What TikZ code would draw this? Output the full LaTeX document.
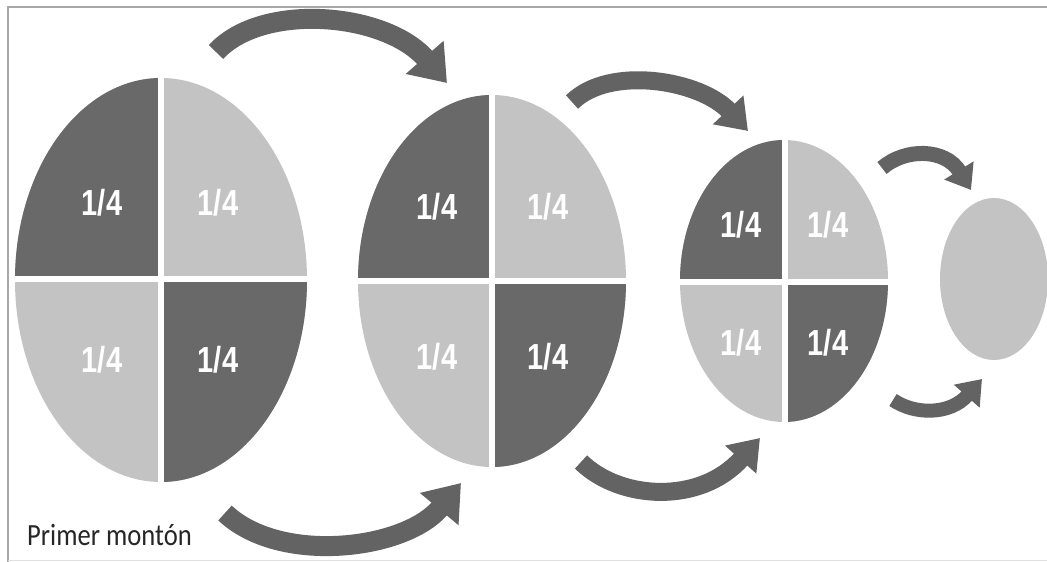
\documentclass[tikz,border=0pt]{standalone}
\usepackage{fontspec}
\usetikzlibrary{arrows.meta}
\newfontfamily\labfont{Liberation Sans}
\newfontfamily\capfont{Carlito}
\definecolor{darkq}{HTML}{696969}
\definecolor{lightq}{HTML}{C3C3C3}
\definecolor{arrowc}{HTML}{636363}
\definecolor{framec}{HTML}{A8A8A8}
\newcommand\quartered[6]{%
  \begin{scope}
    \clip (#1,#2) ellipse [x radius=#3, y radius=#4];
    \fill[lightq] (#1-#3-2,#2-#4-2) rectangle (#1+#3+2,#2+#4+2);
    \fill[darkq] (#5,#6) rectangle (#1-#3-2,#2-#4-2);
    \fill[darkq] (#5,#6) rectangle (#1+#3+2,#2+#4+2);
  \end{scope}
  \draw[gapline] (#5,#2-#4-3) -- (#5,#2+#4+3);
  \draw[gapline] (#1-#3-3,#6) -- (#1+#3+3,#6);
}
\newcommand\qq{\scalebox{1}[1.25]{1/4}}
\begin{document}
\begin{tikzpicture}[x=1pt,y=-1pt,
  gapline/.style={white,line width=6pt},
  lab/.style={text=white,font=\fontsize{29}{29}\selectfont\labfont\bfseries,inner sep=0pt},
  bigarrow/.style={draw=arrowc,line width=#1,-{Triangle[length=34pt,width=48pt]}},
  midarrow/.style={draw=arrowc,line width=#1,-{Triangle[length=29pt,width=40pt]}},
  smallarrow/.style={draw=arrowc,line width=#1,-{Triangle[length=23pt,width=33pt]}}]
\useasboundingbox (0,0) rectangle (1047,562);
\fill[white] (0,0) rectangle (1047,562);
% frame
\draw[framec,line width=2pt] (8,562) -- (8,7) -- (1047,7);
\draw[black!12,line width=1pt] (8,560) -- (1047,560);
% pies
\quartered{161}{280}{146}{202}{161}{279}
\quartered{492}{281}{134}{186}{492}{281}
\quartered{784}{281}{104}{141}{784.5}{282}
\fill[lightq] (994,279) ellipse [x radius=54, y radius=81];
\coordinate (p4) at (994,279);
% labels
\node[lab] (a1) at (102,203) {\qq};
\node[lab] (a2) at (218,203) {\qq};
\node[lab] (a3) at (102,360) {\qq};
\node[lab] (a4) at (218,360) {\qq};
\node[lab] (b1) at (437,207) {\qq};
\node[lab] (b2) at (548,207) {\qq};
\node[lab] (b3) at (437,357) {\qq};
\node[lab] (b4) at (548,357) {\qq};
\node[lab] (c1) at (741,225) {\qq};
\node[lab] (c2) at (828,225) {\qq};
\node[lab] (c3) at (741,343) {\qq};
\node[lab] (c4) at (828,343) {\qq};
% arrows
\coordinate (t1s) at (216,52);  \coordinate (t1e) at (447,83);
\coordinate (t2s) at (572,102); \coordinate (t2e) at (748,131);
\coordinate (t3s) at (882,168); \coordinate (t3e) at (971,190);
\coordinate (b1s) at (225,513); \coordinate (b1e) at (461,483);
\coordinate (b2s) at (581,462); \coordinate (b2e) at (760,438);
\coordinate (b3s) at (893,400); \coordinate (b3e) at (982,379);
\draw[bigarrow=20pt] (t1s) .. controls (262,2) and (385,12) .. (t1e);
\draw[midarrow=18pt] (t2s) .. controls (610,65) and (700,80) .. (t2e);
\draw[smallarrow=15pt] (t3s) .. controls (905,148) and (945,148) .. (t3e);
\draw[bigarrow=20pt] (b1s) .. controls (280,565) and (405,550) .. (b1e);
\draw[midarrow=18pt] (b2s) .. controls (620,500) and (700,505) .. (b2e);
\draw[smallarrow=14pt] (b3s) .. controls (915,415) and (950,415) .. (b3e);
% caption
\node[font=\fontsize{28}{28}\selectfont\capfont,text=black!85,anchor=west,inner sep=0pt] (cap) at (27,535) {\scalebox{0.95}[1.1]{Primer montón}};
\end{tikzpicture}
\end{document}
